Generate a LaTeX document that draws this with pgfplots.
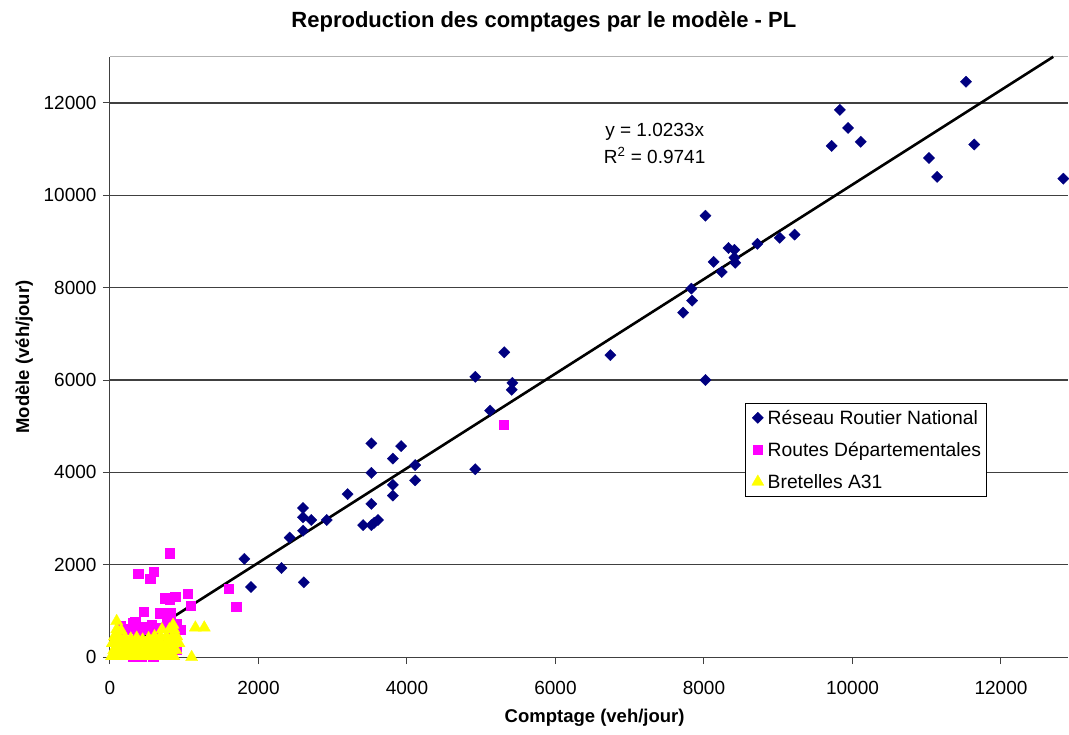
\documentclass[border=0pt]{standalone}
\usepackage{fontspec}
\setmainfont{Liberation Sans}
\usepackage{pgfplots}
\pgfplotsset{compat=1.18}
\usepackage{pgfplotstable}

\definecolor{rrn}{RGB}{0,0,128}
\definecolor{rdep}{RGB}{255,0,255}
\definecolor{bret}{RGB}{255,255,0}
\definecolor{gridc}{RGB}{64,64,64}

% Réseau Routier National
\pgfplotstableread{
x y
11530 12460
9830 11850
9940 11460
9720 11070
10110 11160
11030 10810
11140 10400
11640 11100
12840 10360
8020 9560
8130 8560
8330 8860
8410 8820
8410 8650
8420 8540
8240 8340
8720 8950
9020 9080
9220 9150
7830 7980
7840 7720
7720 7460
6740 6540
8020 6000
5310 6600
4920 6070
5420 5940
5410 5790
5120 5340
4920 4070
3520 4630
3920 4570
3810 4300
4110 4160
3520 3990
3810 3730
4110 3830
3810 3500
3200 3530
3520 3320
3410 2860
3520 2860
3560 2910
3610 2970
2920 2970
2600 3230
2600 3030
2710 2970
2600 2740
2420 2590
1810 2130
2310 1930
1900 1520
2610 1620
}\rrn

% Routes Départementales
\pgfplotstableread{
x y
5300 5040
800 2250
380 1810
590 1850
540 1700
1600 1490
1700 1100
1050 1380
880 1310
740 1280
800 1240
1090 1110
450 980
670 950
810 950
340 770
310 740
140 670
135 640
200 590
900 730
945 590
830 530
610 530
675 370
890 190
900 160
430 20
580 10
310 10
250 620
420 660
520 610
700 640
380 560
560 700
760 720
}\rdep

% Bretelles A31
\pgfplotstableread{
x y
20 20
80 20
140 20
200 20
260 20
320 20
380 20
440 20
500 20
560 20
620 20
680 20
740 20
800 20
860 20
50 150
110 150
170 150
230 150
290 150
350 150
410 150
470 150
530 150
590 150
650 150
710 150
770 150
830 150
890 150
30 300
90 300
150 300
210 300
270 300
330 300
390 300
450 300
510 300
570 300
630 300
690 300
750 300
810 300
870 300
930 300
60 450
120 450
200 430
280 400
360 420
440 380
520 410
600 450
680 450
760 450
840 450
900 450
90 600
150 580
700 600
800 600
860 600
90 780
850 700
1150 640
1270 640
1100 0
}\bret

\begin{document}
\begin{tikzpicture}
\begin{axis}[
  at={(0,0)}, anchor=south west,
  scale only axis, width=958bp, height=600.5bp,
  xmin=0, xmax=12900, ymin=0, ymax=13000,
  clip=false,
  axis x line*=bottom, axis y line*=left,
  axis line style={gridc, line width=1bp, -},
  xtick={0,2000,...,12000}, ytick={0,2000,...,12000},
  extra y ticks={13000}, extra y tick labels={},
  extra y tick style={major tick length=0pt, major grid style={gray!60, line width=1bp}},
  tick align=outside, major tick length=7bp,
  tick style={gridc, line width=1bp},
  ymajorgrids, major grid style={gridc, line width=1.2bp},
  scaled ticks=false,
  /pgf/number format/1000 sep={},
  /pgf/number format/assume math mode=true,
  ticklabel style={font=\fontsize{19bp}{23bp}\selectfont},
  xticklabel style={yshift=-14bp},
  yticklabel style={xshift=-3bp},
  title={Reproduction des comptages par le modèle - PL},
  title style={at={(0.453,1.048)}, anchor=center, font=\bfseries\fontsize{22bp}{26bp}\selectfont},
  xlabel={Comptage (veh/jour)},
  xlabel style={at={(0.506,-0.101)}, anchor=center, font=\bfseries\fontsize{18.5bp}{22bp}\selectfont},
  ylabel={Modèle (véh/jour)},
  ylabel style={at={(-0.0895,0.5)}, anchor=center, font=\bfseries\fontsize{18.5bp}{22bp}\selectfont},
  legend style={at={(0.663,0.4235)}, anchor=north west, draw=black, line width=0.8bp,
    fill=white, font=\fontsize{19.3bp}{23bp}\selectfont,
    row sep=3bp, inner ysep=0bp, inner xsep=3.5bp,
    nodes={inner sep=2bp, text height=19.5bp, text depth=5.5bp}},
  legend cell align=left,
  legend image code/.code={\path (0bp,0bp) (16bp,0bp); \draw[#1] plot coordinates {(8.5bp,0bp)};},
]
\addplot[only marks, mark=square*, mark size=4bp, mark options={rotate=45, fill=rrn, draw=rrn, line width=0.3bp}] table {\rrn};
\addlegendentry{Réseau Routier National}
\addplot[only marks, mark=square*, mark size=4.7bp, mark options={fill=rdep, draw=rdep, line width=0.3bp}] table {\rdep};
\addlegendentry{Routes Départementales}
\addplot[only marks, mark=triangle*, mark size=7bp, mark options={fill=bret, draw=bret, line width=0.3bp}] table {\bret};
\addlegendentry{Bretelles A31}
\addplot[forget plot, black, line width=2.6bp] coordinates {(0,0) (12704,13000)};
\node[font=\fontsize{19bp}{23bp}\selectfont] at (axis cs:7336,11380) {y = 1.0233x};
\node[font=\fontsize{19bp}{23bp}\selectfont] at (axis cs:7336,10860) {R\textsuperscript{2} = 0.9741};
\end{axis}
\path[use as bounding box] (-110bp,-77.7bp) rectangle (959bp,657.3bp);
\end{tikzpicture}
\end{document}
